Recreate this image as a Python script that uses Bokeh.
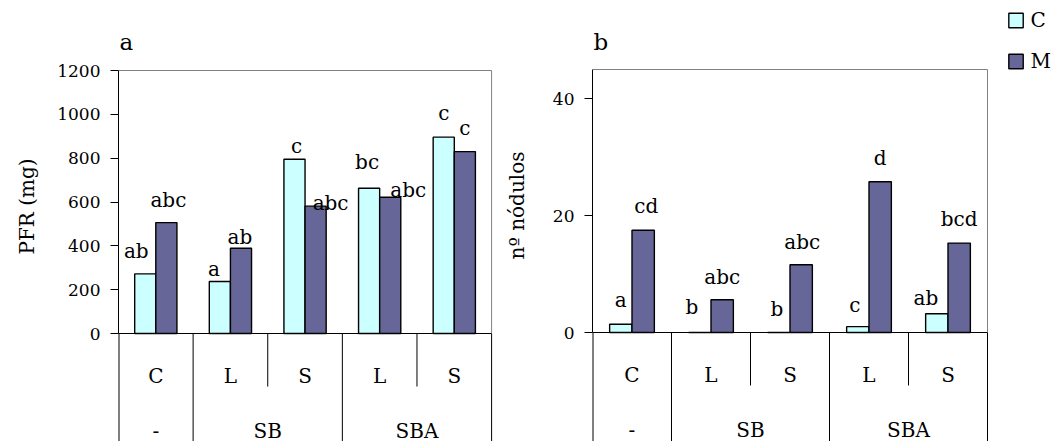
import math
from bokeh.plotting import figure
from bokeh.models import (ColumnDataSource, FixedTicker, Title, Label, Legend,
                          LegendItem, Range1d)
from bokeh.layouts import row
from bokeh.embed import file_html
from bokeh.resources import INLINE
from bokeh.core.properties import value

# ---------------- data ----------------
groups = ["-", "SB", "SB", "SBA", "SBA"]
subs = ["C", "L", "S", "L", "S"]
series = ["C", "M"]

pfr_C = [272, 237, 795, 663, 896]
pfr_M = [506, 389, 581, 622, 830]
pfr_letters_C = ["ab", "a", "c", "bc", "c"]
pfr_letters_M = ["abc", "ab", "abc", "abc", "c"]
pfr_ticks = [0, 200, 400, 600, 800, 1000, 1200]
pfr_max = 1200

nod_C = [1.4, 0, 0, 1.0, 3.2]
nod_M = [17.5, 5.6, 11.6, 25.8, 15.3]
nod_letters_C = ["a", "b", "b", "c", "ab"]
nod_letters_M = ["cd", "abc", "abc", "d", "bcd"]
nod_ticks = [0, 20, 40]
nod_max = 45

ylabel_a = "PFR (mg)"
ylabel_b = "nº nódulos"

# ---------------- layout / style ----------------
CANVAS_H = 441
FONT = "DejaVu Serif"
CYAN = "#CCFFFF"
NAVY = "#666699"
GRAY = "#808080"
BAR_W = 0.283
ROW1_BASE = 42      # px below zero line
ROW2_BASE = 97
INNER_END = 53
LETTER_BASE = 41    # baseline of panel letters, px from top

# per-label nudges (px): horizontal shift, rise of baseline above bar top
a_dx_C, a_rise_C = [-9, -6, 2, -2, 0], [23, 13, 13, 26, 24]
a_dx_M, a_rise_M = [2, -1, 15, 18, 0], [23, 11, 3, 7, 24]
b_dx_C, b_rise_C = [0, -8, -2, -3, -11], [24, 26, 24, 22, 16]
b_dx_M, b_rise_M = [3, 0, 1, 0, 0], [24, 23, 23, 24, 24]


def make_panel(width, frame_left, frame_right, plot_right, plot_top, zero_px,
               ymax, ticks, vals_C, vals_M, let_C, let_M,
               dx_C, rise_C, dx_M, rise_M, letter, letter_dx):
    n = len(subs)
    ppu = (zero_px - plot_top) / ymax
    y_start = -(CANVAS_H - zero_px) / ppu
    y_end = ymax + plot_top / ppu
    x_end = n * (frame_right - frame_left) / (plot_right - frame_left)

    def below(px):
        return -px / ppu

    p = figure(width=width, height=CANVAS_H, x_range=Range1d(0, x_end),
               y_range=Range1d(y_start, y_end), output_backend="svg",
               toolbar_location=None, x_axis_location=None, title=None,
               min_border_left=frame_left, min_border_right=width - frame_right,
               min_border_top=0, min_border_bottom=0)
    p.outline_line_color = None
    p.grid.visible = False
    p.background_fill_color = "white"
    p.border_fill_color = "white"

    ax = p.yaxis[0]
    ax.bounds = (0, ymax)
    ax.ticker = FixedTicker(ticks=ticks)
    ax.minor_tick_line_color = None
    ax.major_tick_in = 0
    ax.major_tick_out = 8
    ax.axis_line_color = "black"
    ax.major_tick_line_color = "black"
    ax.major_label_text_font = FONT
    ax.major_label_text_font_size = "17px"
    ax.major_label_text_color = "black"
    ax.major_label_standoff = 10

    centers = [i + 0.5 for i in range(n)]
    src = ColumnDataSource(dict(
        xc=[c - BAR_W / 2 for c in centers], xm=[c + BAR_W / 2 for c in centers],
        c=vals_C, m=vals_M, lc=let_C, lm=let_M,
        dxc=dx_C, dyc=[-r for r in rise_C], dxm=dx_M, dym=[-r for r in rise_M]))

    rc = p.vbar(x="xc", top="c", bottom=0, width=BAR_W, fill_color=CYAN,
                line_color="black", line_width=1.4, source=src)
    rm = p.vbar(x="xm", top="m", bottom=0, width=BAR_W, fill_color=NAVY,
                line_color="black", line_width=1.4, source=src)

    common = dict(text_align="center", text_baseline="alphabetic",
                  text_font=value(FONT), text_font_size="20px",
                  text_color="black", source=src)
    p.text(x="xc", y="c", text="lc", x_offset="dxc", y_offset="dyc", **common)
    p.text(x="xm", y="m", text="lm", x_offset="dxm", y_offset="dym", **common)

    # baseline and plot-area border
    p.segment(x0=[0], y0=[0], x1=[n], y1=[0], line_color="black", line_width=1)
    p.segment(x0=[0], y0=[ymax], x1=[n], y1=[ymax], line_color=GRAY,
              line_width=1)
    p.segment(x0=[n], y0=[0], x1=[n], y1=[ymax], line_color=GRAY,
              line_width=1)

    # category table lines
    full = [i for i in range(1, n) if groups[i] != groups[i - 1]] + [n]
    short = [i for i in range(1, n) if groups[i] == groups[i - 1]]
    p.segment(x0=full, y0=[0] * len(full), x1=full, y1=[y_start] * len(full),
              line_color="black", line_width=1)
    p.segment(x0=short, y0=[0] * len(short), x1=short,
              y1=[below(INNER_END)] * len(short), line_color="black",
              line_width=1)
    p.segment(x0=[0], y0=[0], x1=[0], y1=[y_start], line_color="black",
              line_width=2)

    # category labels
    tcommon = dict(text_align="center", text_baseline="alphabetic",
                   text_font=value(FONT), text_font_size="20px",
                   text_color="black")
    p.text(x=centers, y=[below(ROW1_BASE)] * n, text=subs, **tcommon)
    top_groups = list(dict.fromkeys(groups))
    gx = [sum(c for c, g in zip(centers, groups) if g == tg) / groups.count(tg)
          for tg in top_groups]
    p.text(x=gx, y=[below(ROW2_BASE)] * len(top_groups), text=top_groups,
           **tcommon)

    # panel letter
    p.add_layout(Label(x=letter_dx, y=CANVAS_H - LETTER_BASE,
                       x_units="screen", y_units="screen", text=letter,
                       text_align="left", text_baseline="alphabetic",
                       text_font=FONT, text_font_size="23px",
                       text_color="black"))
    return p, rc, rm


# panel a spans x 0..530; its plot area ends at 491
PA_W = 530
pa, _, _ = make_panel(PA_W, 117, PA_W, 491, 70, 333, pfr_max, pfr_ticks,
                      pfr_C, pfr_M, pfr_letters_C, pfr_letters_M,
                      a_dx_C, a_rise_C, a_dx_M, a_rise_M, "a", 1)
pa.add_layout(Title(text=ylabel_a, align="left", offset=187,
                    vertical_align="top", standoff=28, text_font=FONT,
                    text_font_size="20px", text_font_style="normal",
                    text_color="black"), "left")
# y-axis title of panel b sits in the gap between the two plot areas
pa.add_layout(Label(x=515 - 117, y=CANVAS_H - 205, x_units="screen",
                    y_units="screen", text=ylabel_b, angle=math.pi / 2,
                    text_align="center", text_baseline="middle",
                    text_font=FONT, text_font_size="20px",
                    text_color="black"))

PB_W = 1059 - PA_W
pb, rbc, rbm = make_panel(PB_W, 592 - PA_W, PB_W, 987 - PA_W, 69, 332,
                          nod_max, nod_ticks,
                          nod_C, nod_M, nod_letters_C, nod_letters_M,
                          b_dx_C, b_rise_C, b_dx_M, b_rise_M, "b", 1)

legend = Legend(items=[LegendItem(label=value(series[0]), renderers=[rbc]),
                       LegendItem(label=value(series[1]), renderers=[rbm])],
                location="top_right", orientation="vertical",
                glyph_width=18, glyph_height=18, label_height=18,
                spacing=17, padding=0, margin=8, border_line_color=None,
                background_fill_alpha=0, label_standoff=6,
                label_text_font=FONT, label_text_font_size="20px",
                label_text_color="black")
pb.add_layout(legend)

layout = row(pa, pb)
open("out.html", "w").write(file_html(layout, INLINE))
